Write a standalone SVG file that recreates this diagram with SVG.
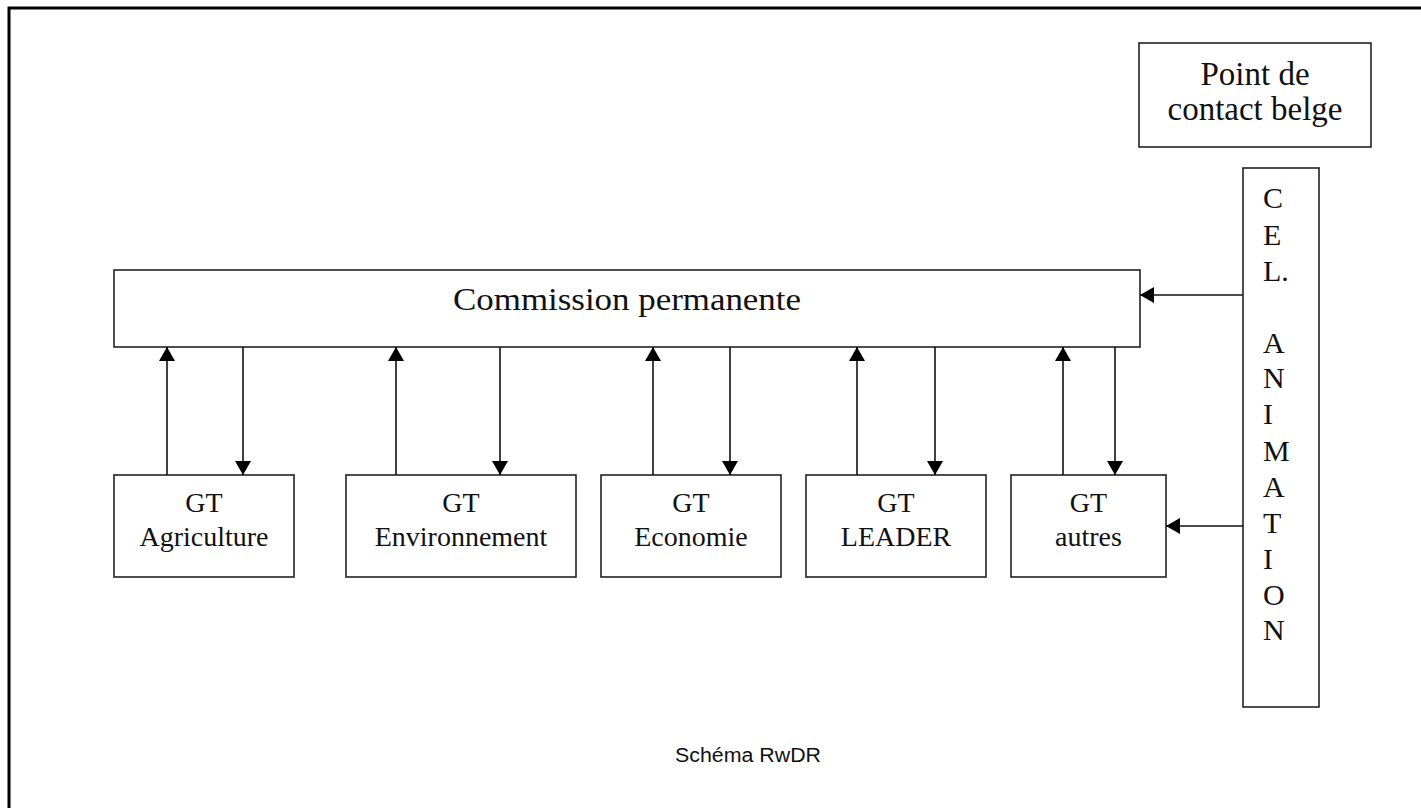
<svg xmlns="http://www.w3.org/2000/svg" width="1421" height="808" viewBox="0 0 1421 808">
<style>
.box{fill:#fff;stroke:#222;stroke-width:1.6}
.t{font-family:"Liberation Serif","Times New Roman",serif;fill:#111;text-anchor:middle}
.gt{font-size:28px}
.v{font-family:"Liberation Serif","Times New Roman",serif;fill:#111;font-size:30px}
.ln{stroke:#111;stroke-width:1.6;fill:none}
</style>
<defs>
<marker id="ah" viewBox="0 0 14 16" refX="14" refY="8" markerWidth="14" markerHeight="16" markerUnits="userSpaceOnUse" orient="auto">
<path d="M0,0 L14,8 L0,16 Z" fill="#000"/>
</marker>
</defs>
<rect x="0" y="0" width="1421" height="808" fill="#fff"/>
<rect x="9" y="8" width="1430" height="820" fill="none" stroke="#000" stroke-width="3"/>
<g id="point-contact">
<rect class="box" x="1139" y="43" width="232" height="104"/>
<text class="t" x="1255" y="85" font-size="33">Point de</text>
<text class="t" x="1255" y="120" font-size="33">contact belge</text>
</g>
<g id="commission">
<rect class="box" x="114" y="270" width="1026" height="77"/>
<text class="t" x="627" y="310" font-size="32" textLength="348" lengthAdjust="spacingAndGlyphs">Commission permanente</text>
</g>
<g id="cel-animation">
<rect class="box" x="1243" y="168" width="76" height="539"/>
<text class="v" x="1263" y="208">C</text>
<text class="v" x="1263" y="245">E</text>
<text class="v" x="1263" y="281">L.</text>
<text class="v" x="1263" y="353">A</text>
<text class="v" x="1263" y="388">N</text>
<text class="v" x="1263" y="424">I</text>
<text class="v" x="1263" y="461">M</text>
<text class="v" x="1263" y="497">A</text>
<text class="v" x="1263" y="533">T</text>
<text class="v" x="1263" y="569">I</text>
<text class="v" x="1263" y="605">O</text>
<text class="v" x="1263" y="640">N</text>
</g>
<g id="gt-agriculture">
<rect class="box" x="114" y="475" width="180" height="102"/>
<text class="t gt" x="204" y="512">GT</text>
<text class="t gt" x="204" y="546">Agriculture</text>
</g>
<g id="gt-environnement">
<rect class="box" x="346" y="475" width="230" height="102"/>
<text class="t gt" x="461" y="512">GT</text>
<text class="t gt" x="461" y="546">Environnement</text>
</g>
<g id="gt-economie">
<rect class="box" x="601" y="475" width="180" height="102"/>
<text class="t gt" x="691" y="512">GT</text>
<text class="t gt" x="691" y="546">Economie</text>
</g>
<g id="gt-leader">
<rect class="box" x="806" y="475" width="180" height="102"/>
<text class="t gt" x="896" y="512">GT</text>
<text class="t gt" x="896" y="546">LEADER</text>
</g>
<g id="gt-autres">
<rect class="box" x="1011" y="475" width="155" height="102"/>
<text class="t gt" x="1088.5" y="512">GT</text>
<text class="t gt" x="1088.5" y="546">autres</text>
</g>
<g id="connectors">
<line class="ln" x1="167" y1="475" x2="167" y2="347" marker-end="url(#ah)"/>
<line class="ln" x1="243" y1="347" x2="243" y2="475" marker-end="url(#ah)"/>
<line class="ln" x1="396" y1="475" x2="396" y2="347" marker-end="url(#ah)"/>
<line class="ln" x1="500" y1="347" x2="500" y2="475" marker-end="url(#ah)"/>
<line class="ln" x1="653" y1="475" x2="653" y2="347" marker-end="url(#ah)"/>
<line class="ln" x1="730" y1="347" x2="730" y2="475" marker-end="url(#ah)"/>
<line class="ln" x1="857" y1="475" x2="857" y2="347" marker-end="url(#ah)"/>
<line class="ln" x1="935" y1="347" x2="935" y2="475" marker-end="url(#ah)"/>
<line class="ln" x1="1063" y1="475" x2="1063" y2="347" marker-end="url(#ah)"/>
<line class="ln" x1="1115" y1="347" x2="1115" y2="475" marker-end="url(#ah)"/>
<line class="ln" x1="1243" y1="295" x2="1140" y2="295" marker-end="url(#ah)"/>
<line class="ln" x1="1243" y1="526" x2="1166" y2="526" marker-end="url(#ah)"/>
</g>
<text x="748" y="762" font-family="'Liberation Sans',Arial,sans-serif" font-size="20" fill="#111" text-anchor="middle" textLength="146" lengthAdjust="spacingAndGlyphs">Schéma RwDR</text>
</svg>
